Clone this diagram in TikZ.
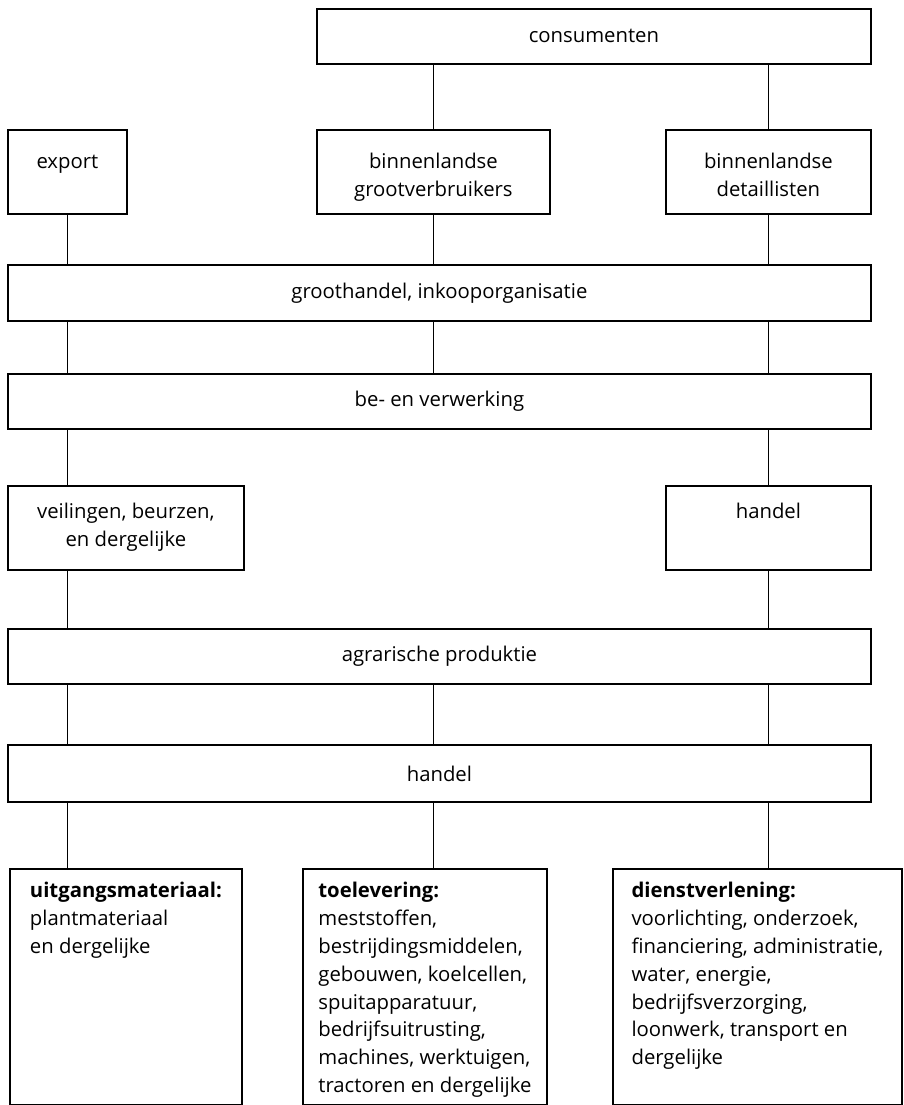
\documentclass[tikz,border=0pt]{standalone}
\usepackage{fontspec}
\setmainfont{Open Sans}
\newcommand{\tekst}{\fontsize{20.3}{27.8}\selectfont}
\newcommand{\cregels}[1]{\begin{tabular}[t]{@{}c@{}}#1\end{tabular}}
\newcommand{\lregels}[1]{\begin{tabular}[t]{@{}l@{}}#1\end{tabular}}
\tikzset{
  blok/.style={draw, line width=1.8pt, anchor=north west, inner sep=0pt, font=\tekst},
  topblok/.style 2 args={blok, text height=#1pt, text depth=#2pt},
  lijn/.style={line width=1.7pt}
}

\begin{document}
\begin{tikzpicture}[x=1pt, y=-1pt]
        \useasboundingbox (0,0) rectangle (904,1105);
        % bovenste lagen
        \node[blok, minimum width=554pt, minimum height=55pt] (cons) at (316,8) {consumenten};
        \node[topblok={39}{45}, minimum width=119pt] (exp) at (7,129) {export};
        \node[topblok={39}{45}, minimum width=233pt] (gv) at (316,129) {\cregels{binnenlandse\\grootverbruikers}};
        \node[topblok={39}{45}, minimum width=205pt] (det) at (665,129) {\cregels{binnenlandse\\detaillisten}};
        \node[blok, minimum width=863pt, minimum height=56pt] (gh) at (7,264) {groothandel, inkooporganisatie};
        \node[blok, minimum width=863pt, minimum height=55pt] (bv) at (7,373) {be- en verwerking};
        \node[topblok={33}{51}, minimum width=236pt] (veil) at (7,485) {\cregels{veilingen, beurzen,\\en dergelijke}};
        \node[topblok={33}{51}, minimum width=205pt] (hnd) at (665,485) {handel};
        \node[blok, minimum width=863pt, minimum height=55pt] (agr) at (7,628) {agrarische produktie};
        \node[blok, minimum width=863pt, minimum height=57pt] (hnd2) at (7,744) {handel};
        % toeleverende sectoren
        \node[topblok={29}{207}, minimum width=232pt] (uitg) at (9,868)
            {\lregels{\textbf{uitgangsmateriaal:}\\plantmateriaal\\en dergelijke}};
        \node[topblok={29}{207}, minimum width=244pt] (toel) at (302,868)
            {\lregels{\textbf{toelevering:}\\meststoffen,\\bestrijdingsmiddelen,\\gebouwen, koelcellen,\\spuitapparatuur,\\bedrijfsuitrusting,\\machines, werktuigen,\\tractoren en dergelijke}};
        \node[topblok={29}{207}, minimum width=289pt] (dienst) at (612,868)
            {\lregels{\textbf{dienstverlening:}\\voorlichting, onderzoek,\\financiering, administratie,\\water, energie,\\bedrijfsverzorging,\\loonwerk, transport en\\dergelijke}};
        % verbindingen
        \foreach \k in {gv,det}{
            \draw[lijn] (cons.south -| \k) -- (\k.north);
        }
        \foreach \k in {exp,gv,det}{
            \draw[lijn] (\k.south) -- (gh.north -| \k);
            \draw[lijn] (gh.south -| \k) -- (bv.north -| \k);
            \draw[lijn] (agr.south -| \k) -- (hnd2.north -| \k);
        }
        \draw[lijn] (bv.south -| exp) -- (veil.north -| exp);
        \draw[lijn] (veil.south -| exp) -- (agr.north -| exp);
        \draw[lijn] (bv.south -| hnd) -- (hnd.north);
        \draw[lijn] (hnd.south) -- (agr.north -| hnd);
        \foreach \k/\d in {exp/uitg,gv/toel,det/dienst}{
            \draw[lijn] (hnd2.south -| \k) -- (\d.north -| \k);
        }
\end{tikzpicture}
\end{document}
